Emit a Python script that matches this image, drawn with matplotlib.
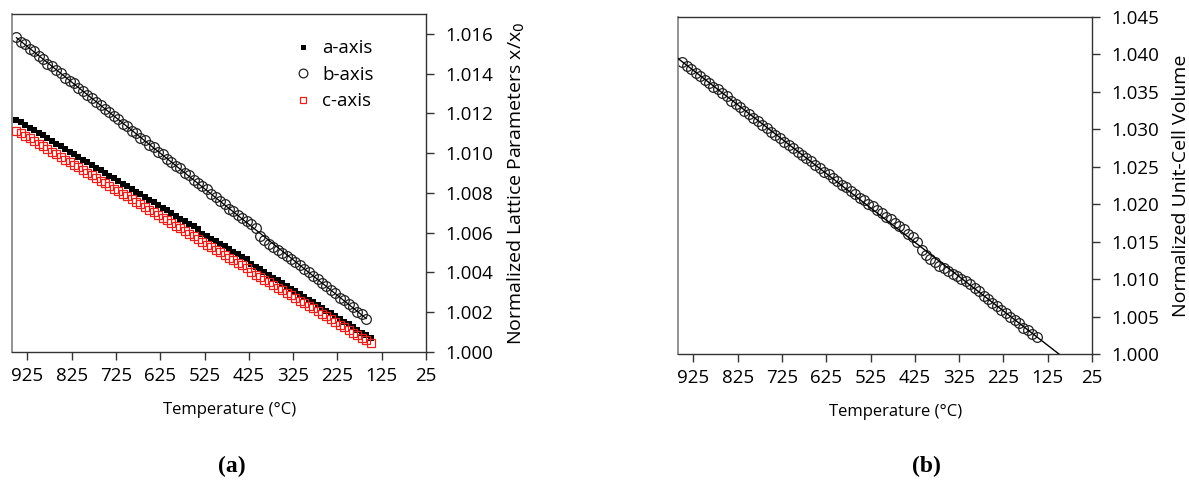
import numpy as np
import matplotlib
matplotlib.use("Agg")
import matplotlib.pyplot as plt

plt.rcParams['font.family'] = ['Open Sans', 'DejaVu Sans']

# Temperatures (deg C), measured on cooling from 950 down to 150
temp_ac = [950, 940, 930, 920, 910, 900, 890, 880, 870, 860, 850, 840, 830, 820, 810,
           800, 790, 780, 770, 760, 750, 740, 730, 720, 710, 700, 690, 680, 670, 660,
           650, 640, 630, 620, 610, 600, 590, 580, 570, 560, 550, 540, 530, 520, 510,
           500, 490, 480, 470, 460, 450, 440, 430, 420, 410, 400, 390, 380, 370, 360,
           350, 340, 330, 320, 310, 300, 290, 280, 270, 260, 250, 240, 230, 220, 210,
           200, 190, 180, 170, 160, 150]
temp_b = temp_ac[:-1]
temp_v = temp_ac

a_axis = [1.01169, 1.01156, 1.01143, 1.01129, 1.01116, 1.01102, 1.01089, 1.01075, 1.01061, 1.01048,
          1.01035, 1.01021, 1.01008, 1.00994, 1.00981, 1.00968, 1.00954, 1.00940, 1.00927, 1.00913,
          1.00900, 1.00886, 1.00874, 1.00860, 1.00846, 1.00833, 1.00820, 1.00806, 1.00793, 1.00779,
          1.00767, 1.00753, 1.00739, 1.00725, 1.00712, 1.00699, 1.00685, 1.00671, 1.00659, 1.00645,
          1.00632, 1.00618, 1.00595, 1.00582, 1.00569, 1.00556, 1.00544, 1.00531, 1.00518, 1.00505,
          1.00493, 1.00480, 1.00466, 1.00441, 1.00429, 1.00415, 1.00401, 1.00387, 1.00374, 1.00360,
          1.00346, 1.00332, 1.00319, 1.00305, 1.00291, 1.00277, 1.00263, 1.00249, 1.00235, 1.00221,
          1.00208, 1.00194, 1.00180, 1.00166, 1.00153, 1.00139, 1.00124, 1.00110, 1.00097, 1.00083,
          1.00069]

b_axis = [1.01582, 1.01559, 1.01548, 1.01524, 1.01512, 1.01488, 1.01475, 1.01451, 1.01440, 1.01417,
          1.01404, 1.01380, 1.01362, 1.01351, 1.01327, 1.01315, 1.01291, 1.01280, 1.01256, 1.01244,
          1.01220, 1.01208, 1.01185, 1.01174, 1.01149, 1.01137, 1.01113, 1.01101, 1.01078, 1.01066,
          1.01042, 1.01030, 1.01006, 1.00995, 1.00970, 1.00958, 1.00935, 1.00923, 1.00899, 1.00888,
          1.00864, 1.00852, 1.00836, 1.00818, 1.00797, 1.00781, 1.00758, 1.00744, 1.00721, 1.00709,
          1.00690, 1.00676, 1.00660, 1.00646, 1.00625, 1.00585, 1.00562, 1.00545, 1.00530, 1.00515,
          1.00500, 1.00485, 1.00470, 1.00455, 1.00440, 1.00418, 1.00404, 1.00382, 1.00369, 1.00346,
          1.00333, 1.00310, 1.00297, 1.00274, 1.00262, 1.00239, 1.00226, 1.00203, 1.00190, 1.00168]

c_axis = [1.01113, 1.01100, 1.01087, 1.01074, 1.01061, 1.01048, 1.01034, 1.01021, 1.01008, 1.00994,
          1.00981, 1.00968, 1.00955, 1.00942, 1.00928, 1.00915, 1.00902, 1.00888, 1.00875, 1.00862,
          1.00848, 1.00835, 1.00822, 1.00809, 1.00796, 1.00783, 1.00769, 1.00756, 1.00742, 1.00729,
          1.00716, 1.00702, 1.00689, 1.00676, 1.00662, 1.00649, 1.00636, 1.00622, 1.00609, 1.00596,
          1.00582, 1.00569, 1.00553, 1.00540, 1.00527, 1.00514, 1.00501, 1.00488, 1.00475, 1.00462,
          1.00449, 1.00436, 1.00423, 1.00402, 1.00388, 1.00376, 1.00363, 1.00350, 1.00337, 1.00324,
          1.00311, 1.00298, 1.00285, 1.00272, 1.00259, 1.00245, 1.00232, 1.00219, 1.00205, 1.00192,
          1.00179, 1.00165, 1.00152, 1.00138, 1.00125, 1.00112, 1.00098, 1.00085, 1.00072, 1.00058,
          1.00045]

cell_volume = [1.03901, 1.03847, 1.03808, 1.03756, 1.03716, 1.03662, 1.03623, 1.03571, 1.03532, 1.03481,
               1.03441, 1.03385, 1.03342, 1.03301, 1.03245, 1.03202, 1.03151, 1.03111, 1.03057, 1.03015,
               1.02962, 1.02921, 1.02879, 1.02828, 1.02790, 1.02751, 1.02697, 1.02662, 1.02612, 1.02574,
               1.02523, 1.02486, 1.02434, 1.02398, 1.02346, 1.02310, 1.02260, 1.02224, 1.02175, 1.02139,
               1.02088, 1.02058, 1.02005, 1.01971, 1.01917, 1.01884, 1.01831, 1.01797, 1.01743, 1.01703,
               1.01664, 1.01608, 1.01557, 1.01491, 1.01395, 1.01324, 1.01263, 1.01222, 1.01181, 1.01145,
               1.01105, 1.01069, 1.01038, 1.01007, 1.00971, 1.00930, 1.00876, 1.00836, 1.00780, 1.00736,
               1.00684, 1.00640, 1.00588, 1.00547, 1.00499, 1.00448, 1.00408, 1.00353, 1.00320, 1.00273,
               1.00231]

x_ticks = [925, 825, 725, 625, 525, 425, 325, 225, 125, 25]
y_ticks_a = [1.000, 1.002, 1.004, 1.006, 1.008, 1.010, 1.012, 1.014, 1.016]
y_ticks_b = [1.000, 1.005, 1.010, 1.015, 1.020, 1.025, 1.030, 1.035, 1.040, 1.045]

W, H = 1189, 495
fig = plt.figure(figsize=(W / 100, H / 100), dpi=100)

def px_axes(x0, y0, x1, y1):
    return fig.add_axes([x0 / W, 1 - y1 / H, (x1 - x0) / W, (y1 - y0) / H])

def style(ax, yticks, fmt, ylabel):
    ax.set_xlim(960, 25)
    ax.set_xticks(x_ticks)
    ax.set_xticklabels([str(t) for t in x_ticks])
    ax.yaxis.tick_right()
    ax.yaxis.set_label_position("right")
    ax.set_yticks(yticks)
    ax.set_yticklabels([fmt.format(v) for v in yticks])
    ax.tick_params(axis='both', direction='out', length=6, width=1, color='#333333',
                   labelsize=13.5)
    ax.tick_params(axis='y', pad=8)
    ax.tick_params(axis='x', pad=5)
    for side in ('top', 'right', 'bottom'):
        ax.spines[side].set_color('#333333')
        ax.spines[side].set_linewidth(1.0)
    ax.spines['left'].set_color('#808080')
    ax.spines['left'].set_linewidth(1.2)
    ax.set_xlabel('Temperature (°C)', fontsize=12, labelpad=12)
    ax.xaxis.label.set_x(0.525)
    ax.set_ylabel(ylabel, fontsize=14, labelpad=9)

# (a) lattice parameters
ax1 = px_axes(12, 14, 426, 352)
ax1.set_ylim(1.000, 1.017)
ax1.plot(temp_ac, a_axis, linestyle='none', marker='s', markersize=4,
         color='black', markeredgewidth=0, label='a-axis', zorder=3)
ax1.plot(temp_b, b_axis, linestyle='none', marker='o', markersize=7,
         markerfacecolor='none', markeredgecolor='#222222', markeredgewidth=0.9,
         label='b-axis', zorder=2)
ax1.plot(temp_ac, c_axis, linestyle='none', marker='s', markersize=5.5,
         markerfacecolor='none', markeredgecolor='#e8201a', markeredgewidth=0.9,
         label='c-axis', zorder=4)
kb = np.polyfit(temp_b, b_axis, 1)
tb = np.array([temp_b[0], temp_b[-1]])
ax1.plot(tb, np.polyval(kb, tb), color='black', linewidth=0.9, zorder=5)
style(ax1, y_ticks_a, '{:.3f}', 'Normalized Lattice Parameters x/x$_0$')
leg = ax1.legend(loc='upper left', bbox_to_anchor=(0.64, 0.975), frameon=False,
                 fontsize=13.5, handletextpad=0.5, labelspacing=0.45, markerscale=0.9,
                 handlelength=1.0)

# (b) unit-cell volume
ax2 = px_axes(678, 17, 1092, 354)
ax2.set_ylim(1.000, 1.045)
ax2.plot(temp_v, cell_volume, linestyle='none', marker='o', markersize=7,
         markerfacecolor='none', markeredgecolor='#222222', markeredgewidth=0.9, zorder=2)
kv = np.polyfit(temp_v, cell_volume, 1)
tv = np.array([960, 25])
ax2.plot(tv, np.polyval(kv, tv), color='black', linewidth=1.0, zorder=3)
style(ax2, y_ticks_b, '{:.3f}', 'Normalized Unit-Cell Volume')

fig.text(232 / W, 1 - 466 / H, '(a)', ha='center', va='center', fontsize=17,
         fontweight='bold', family='Liberation Serif')
fig.text(926 / W, 1 - 466 / H, '(b)', ha='center', va='center', fontsize=17,
         fontweight='bold', family='Liberation Serif')

fig.savefig('out.png', dpi=100)
